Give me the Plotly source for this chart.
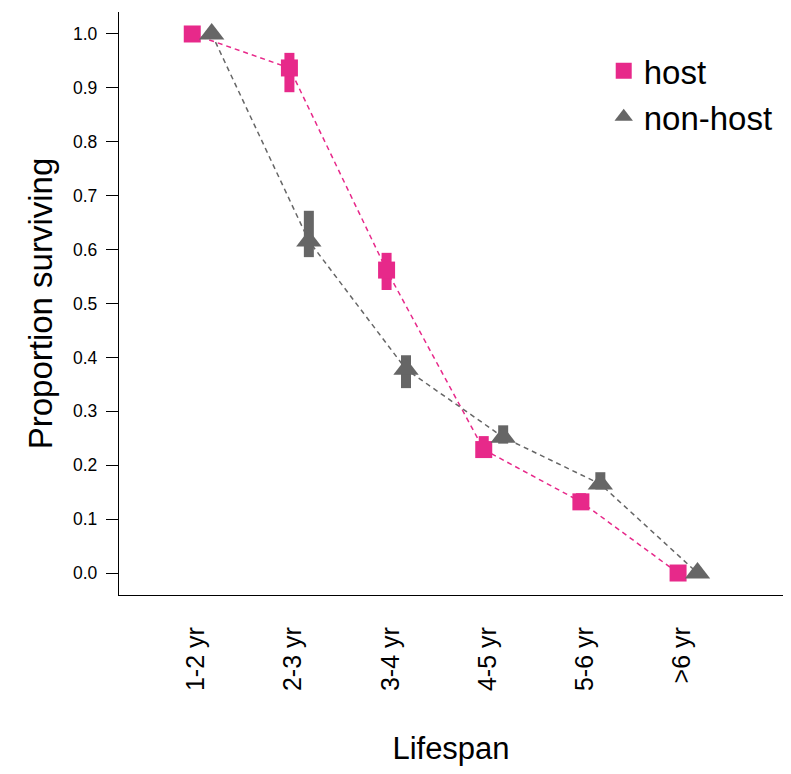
import plotly.graph_objects as go

categories = ["1-2 yr", "2-3 yr", "3-4 yr", "4-5 yr", "5-6 yr", ">6 yr"]
host_vals = [1.0, 0.937, 0.562, 0.229, 0.132, 0.0]
host_err_up = [0.0, 0.028, 0.032, 0.025, 0.016, 0.0]
host_err_down = [0.0, 0.045, 0.037, 0.012, 0.010, 0.0]
nonhost_vals = [1.0, 0.616, 0.378, 0.252, 0.165, 0.0]
nonhost_err_up = [0.0, 0.056, 0.026, 0.022, 0.022, 0.0]
nonhost_err_down = [0.0, 0.030, 0.035, 0.012, 0.010, 0.0]
y_ticks = [0.0, 0.1, 0.2, 0.3, 0.4, 0.5, 0.6, 0.7, 0.8, 0.9, 1.0]

PINK = "#E7298A"
GREY = "#666666"
OFFSET = 0.1
LABEL_SHIFT = 0.06

pos = list(range(1, len(categories) + 1))
host_x = [p - OFFSET for p in pos]
nonhost_x = [p + OFFSET for p in pos]

fig = go.Figure()
fig.add_trace(go.Scatter(x=host_x, y=host_vals, mode="lines", showlegend=False,
                         line=dict(color=PINK, width=1.5, dash="5px,4px")))
fig.add_trace(go.Scatter(x=nonhost_x, y=nonhost_vals, mode="lines", showlegend=False,
                         line=dict(color=GREY, width=1.5, dash="5px,4px")))
fig.add_trace(go.Scatter(
    x=host_x, y=host_vals, mode="markers", name="host",
    marker=dict(symbol="square", size=17, color=PINK, line=dict(width=0)),
    error_y=dict(type="data", symmetric=False, array=host_err_up, arrayminus=host_err_down,
                 color=PINK, thickness=10, width=0)))
fig.add_trace(go.Scatter(
    x=nonhost_x, y=nonhost_vals, mode="markers", name="non-host",
    marker=dict(symbol="triangle-up", size=22, color=GREY, line=dict(width=0)),
    error_y=dict(type="data", symmetric=False, array=nonhost_err_up, arrayminus=nonhost_err_down,
                 color=GREY, thickness=10, width=0)))

FONT = "Liberation Sans, Arial, sans-serif"
# 672 px wide plot area in a 775 px wide figure (left margin 111, right margin -8 not allowed -> fit)
fig.update_layout(
    width=775, height=758,
    margin=dict(l=111, r=0, t=4, b=171, autoexpand=False),
    paper_bgcolor="white", plot_bgcolor="white",
    font=dict(family=FONT, color="black"),
    showlegend=True,
    legend=dict(x=0.73, y=0.947, xanchor="left", yanchor="top",
                font=dict(size=33, family=FONT), bgcolor="rgba(0,0,0,0)",
                itemsizing="trace", tracegroupgap=0),
    xaxis=dict(range=[0.146, 6.98], tickmode="array",
               tickvals=[p - LABEL_SHIFT for p in pos], ticktext=categories,
               tickangle=-90, showgrid=False, zeroline=False, showline=True,
               linecolor="black", linewidth=1.3, ticks="", ticklabelstandoff=21,
               tickfont=dict(size=25), automargin=False,
               title=dict(text="Lifespan", font=dict(size=31), standoff=48)),
    yaxis=dict(range=[-0.0408, 1.0408], tickmode="array", tickvals=y_ticks,
               ticktext=[f"{v:.1f}" for v in y_ticks],
               showgrid=False, zeroline=False, showline=True,
               linecolor="black", linewidth=1.3, ticks="outside", ticklen=12,
               tickcolor="black", tickwidth=1.3, tickfont=dict(size=17.5),
               ticklabelstandoff=5, automargin=False,
               title=dict(text="Proportion surviving", font=dict(size=33), standoff=10)),
)

fig.write_html("out.html")
